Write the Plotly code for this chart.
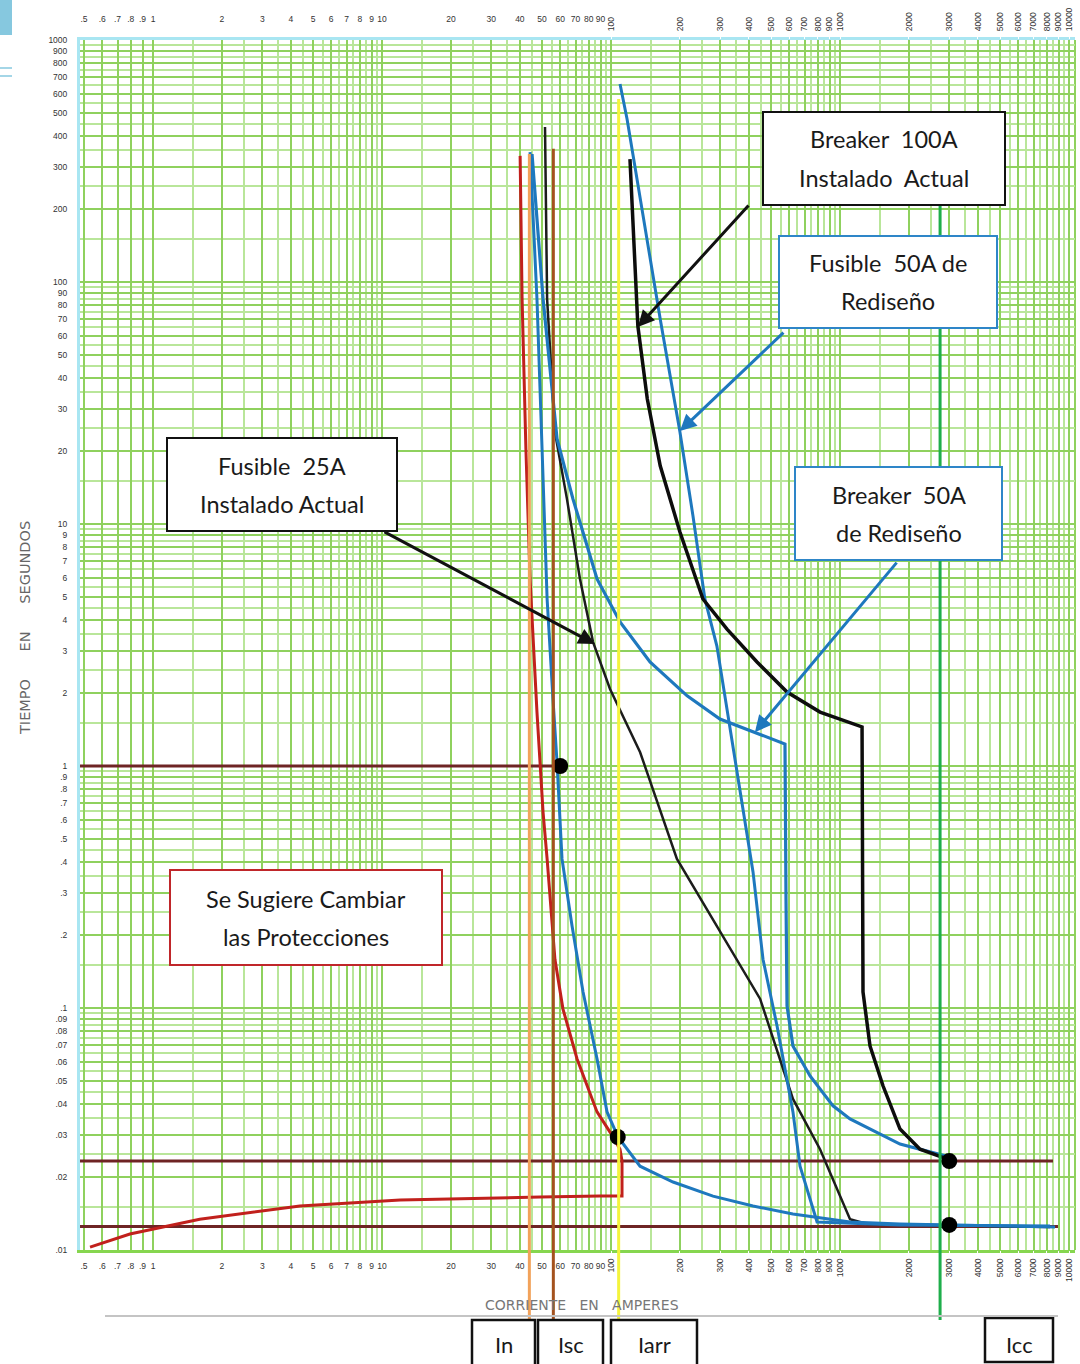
import math
import plotly.graph_objects as go

# ---------------- axis extents (amperes / seconds) ----------------
X_MIN, X_MAX = 0.48, 10620
Y_MIN, Y_MAX = 0.01, 1000

# ---------------- tick labels ----------------
x_ticks_small = [0.5, 0.6, 0.7, 0.8, 0.9, 1, 2, 3, 4, 5, 6, 7, 8, 9,
                 10, 20, 30, 40, 50, 60, 70, 80, 90]
x_ticks_big = [100, 200, 300, 400, 500, 600, 700, 800, 900,
               1000, 2000, 3000, 4000, 5000, 6000, 7000, 8000, 9000, 10000]
y_ticks = [0.01, 0.02, 0.03, 0.04, 0.05, 0.06, 0.07, 0.08, 0.09,
           0.1, 0.2, 0.3, 0.4, 0.5, 0.6, 0.7, 0.8, 0.9,
           1, 2, 3, 4, 5, 6, 7, 8, 9,
           10, 20, 30, 40, 50, 60, 70, 80, 90,
           100, 200, 300, 400, 500, 600, 700, 800, 900, 1000]
half_steps = [1.5, 2.5, 3.5, 4.5, 5.5, 6.5, 7.5, 8.5, 9.5]
decades_x = [0.1, 1, 10, 100, 1000]
decades_y = [0.01, 0.1, 1, 10, 100]

# ---------------- curves (current A, time s) ----------------
red_I = [40.1, 40.9, 42.5, 44.3, 47.5, 50.5, 52.6, 56.9, 61.7, 71.1, 86.9, 99.0,
         109.5, 111.7, 111.7, 89.5, 49.0, 12.0, 4.38, 1.60, 0.793, 0.531]
red_t = [332, 85.1, 20.4, 5.93, 1.67, 0.645, 0.413, 0.159, 0.099, 0.0616, 0.0372, 0.0307,
         0.0261, 0.0233, 0.0167, 0.0167, 0.01656, 0.0161, 0.0152, 0.0134, 0.01164, 0.01028]

fuse_blue_I = [44.3, 47.5, 50.0, 52.6, 55.8, 58.1, 61.1, 67.6, 75.5, 86.9, 96.1, 107.3,
               133.9, 186.6, 278.8, 417, 623, 1106, 1828, 5000, 8690]
fuse_blue_t = [344, 85.1, 20.4, 4.90, 1.89, 1.04, 0.413, 0.218, 0.1165, 0.0616, 0.0372, 0.0293,
               0.0222, 0.0191, 0.0167, 0.0152, 0.01409, 0.01305, 0.0128, 0.01256, 0.01245]

brk50_I = [45.2, 50.5, 58.1, 68.2, 86.9, 109.5, 148, 215, 299, 417, 575,
           581, 587, 623, 740, 932, 1106, 1828, 3020]
brk50_t = [338, 85.1, 22.5, 12.7, 5.93, 3.94, 2.69, 1.95, 1.564, 1.382, 1.233,
           0.282, 0.102, 0.0697, 0.0524, 0.0394, 0.0348, 0.0274, 0.0242]

fus50_I = [109.5, 117.5, 164, 200, 228, 257, 290, 331, 417, 461, 531, 623, 669, 794, 1828, 8260]
fus50_t = [658, 472, 70.3, 24.0, 10.8, 4.90, 3.13, 1.42, 0.365, 0.159, 0.0843, 0.0372,
           0.0222, 0.01305, 0.01268, 0.01256]

brk100_I = [121, 131, 144, 164, 200, 252, 321, 434, 587, 818, 1248,
            1260, 1352, 1542, 1828, 2235, 3115]
brk100_t = [322, 65.8, 32.9, 17.4, 9.27, 4.90, 3.68, 2.69, 2.02, 1.67, 1.45,
            0.1165, 0.0697, 0.0476, 0.0316, 0.0261, 0.0233]

fus25_I = [51.5, 52.6, 56.9, 64.2, 73.2, 83.5, 99.0, 134, 194, 290, 448, 623, 818, 1106, 1312, 8260]
fus25_t = [437, 85.1, 24.0, 12.7, 5.93, 3.25, 2.08, 1.14, 0.413, 0.218, 0.109, 0.0421,
           0.0261, 0.0134, 0.0128, 0.01245]

dots_I = [60, 107, 3000, 3000]
dots_t = [1.0, 0.0293, 0.0233, 0.0127]

# horizontal reference lines (maroon)
hline_t = [1.0, 0.0233, 0.0125]
hline_end_I = [60, 8510, 8950]

# vertical current markers
vline_names = ["In", "Isc", "Iarr", "Icc"]
vline_I = [44, 56, 108, 2735]
vline_top_t = [338, 355, 570, 210]
vline_colors = ["#f2a25a", "#a4521e", "#f4f43c", "#1fae4b"]

# arrows: head (A, s)
arrow_I = [131, 200, 85.1, 425]
arrow_t = [65.2, 24.2, 3.19, 1.38]
arrow_colors = ["#111111", "#1e78be", "#111111", "#1e78be"]

# ---------------- layout geometry ----------------
W, H = 1080, 1364
ML, MR, MT, MB = 80, 5, 40, 114
PW, PH = W - ML - MR, H - MT - MB


def px(x):
    return (x - ML) / PW


def py(y):
    return (H - MB - y) / PH


def fmt(v):
    if v < 1:
        return ("%g" % v)[1:]
    return "%d" % v


def t_to_paper(t):
    return (math.log10(t) - math.log10(Y_MIN)) / (math.log10(Y_MAX) - math.log10(Y_MIN))


NB = "\u00a0"
x_all = x_ticks_small + x_ticks_big
x_minor = [h * d for d in decades_x[1:] for h in half_steps]
y_minor = [h * d for d in decades_y for h in half_steps]

GRID_MAJOR = "#8fd15e"
GRID_MINOR = "#b9e69a"
TICKFONT = dict(family="Liberation Sans", size=8.5, color="#333333")
xr = [math.log10(X_MIN), math.log10(X_MAX)]
yr = [math.log10(Y_MIN), math.log10(Y_MAX)]

fig = go.Figure()

BLUE = "#1e78be"


def line(xs, ys, color, width):
    fig.add_trace(go.Scatter(x=xs, y=ys, mode="lines",
                             line=dict(color=color, width=width),
                             hoverinfo="skip", showlegend=False))


# horizontal maroon lines
for t, e in zip(hline_t, hline_end_I):
    line([X_MIN, e], [t, t], "#6e2424", 3)

line(fus25_I, fus25_t, "#1c1c1c", 2.5)
line(red_I, red_t, "#c1201c", 3)
line(fuse_blue_I, fuse_blue_t, BLUE, 3)
line(brk50_I, brk50_t, BLUE, 3.2)
line(fus50_I, fus50_t, BLUE, 3)
line(brk100_I, brk100_t, "#0d0d0d", 3.5)

fig.add_trace(go.Scatter(x=dots_I, y=dots_t, mode="markers",
                         marker=dict(color="#000000", size=16),
                         hoverinfo="skip", showlegend=False))

# dummy traces for overlay axes
for ax in ["x2", "x3", "x4"]:
    fig.add_trace(go.Scatter(x=[1], y=[1], xaxis=ax, yaxis="y", mode="markers",
                             marker=dict(opacity=0), hoverinfo="skip", showlegend=False))

shapes = []
annotations = []

# vertical current markers
for name, I, top, col in zip(vline_names, vline_I, vline_top_t, vline_colors):
    shapes.append(dict(type="line", xref="x", yref="paper", x0=I, x1=I,
                       y0=py(1320), y1=t_to_paper(top),
                       line=dict(color=col, width=3), layer="above"))

# boxes with text
boxes = [
    (763, 1005, 112, 205, "#111111", "Breaker  100A", "Instalado  Actual"),
    (779, 997, 236, 328, "#2e86c8", "Fusible  50A de", "Rediseño"),
    (167, 397, 438, 531, "#111111", "Fusible  25A", "Instalado Actual"),
    (795, 1002, 467, 560, "#2e86c8", "Breaker  50A", "de Rediseño"),
    (170, 442, 870, 965, "#c0262a", "Se Sugiere Cambiar", "las Protecciones"),
]
BOXFONT = dict(family="Lato", size=23.5, color="#1a1a1a")
for x0, x1, y0, y1, col, l1, l2 in boxes:
    shapes.append(dict(type="rect", xref="paper", yref="paper",
                       x0=px(x0), x1=px(x1), y0=py(y1), y1=py(y0),
                       line=dict(color=col, width=2), fillcolor="white", layer="above"))
    cx = px((x0 + x1) / 2)
    cy = (y0 + y1) / 2
    annotations.append(dict(xref="paper", yref="paper", x=cx, y=py(cy - 19), text=l1,
                            showarrow=False, font=BOXFONT, xanchor="center", yanchor="middle"))
    annotations.append(dict(xref="paper", yref="paper", x=cx, y=py(cy + 19), text=l2,
                            showarrow=False, font=BOXFONT, xanchor="center", yanchor="middle"))

# bottom label boxes
bottom_boxes = [(472, 535, 1320, 1368, "In"), (538, 603, 1320, 1368, "Isc"),
                (611, 697, 1320, 1368, "Iarr"), (985, 1053, 1318, 1362, "Icc")]
for x0, x1, y0, y1, txt in bottom_boxes:
    shapes.append(dict(type="rect", xref="paper", yref="paper",
                       x0=px(x0), x1=px(x1), y0=py(y1), y1=py(y0),
                       line=dict(color="#111111", width=2.5), fillcolor="rgba(0,0,0,0)",
                       layer="above"))
    annotations.append(dict(xref="paper", yref="paper", x=px((x0 + x1) / 2), y=py(1344),
                            text=txt, showarrow=False, font=dict(family="Lato", size=22, color="#1a1a1a"),
                            xanchor="center", yanchor="middle"))

# arrows
tails = [(750, 205), (785, 332), (383, 532), (898, 562)]
heads_px = [(638, 328), (680, 432), (595, 645), (755, 733)]
for I, t, col, (tx, ty), (hx, hy) in zip(arrow_I, arrow_t, arrow_colors, tails, heads_px):
    annotations.append(dict(xref="x", yref="y", x=math.log10(I), y=math.log10(t), text="",
                            showarrow=True, arrowhead=2, arrowsize=1.1, arrowwidth=3,
                            arrowcolor=col, ax=tx - hx, ay=ty - hy))

# axis titles
annotations.append(dict(xref="paper", yref="paper", x=px(25), y=py(628),
                        text="TIEMPO" + NB * 6 + "EN" + NB * 6 + "SEGUNDOS", textangle=-90,
                        showarrow=False,
                        font=dict(family="DejaVu Sans", size=14.5, color="#666666"),
                        xanchor="center", yanchor="middle"))
annotations.append(dict(xref="paper", yref="paper", x=px(582), y=py(1305),
                        text="CORRIENTE" + NB * 3 + "EN" + NB * 3 + "AMPERES", showarrow=False,
                        font=dict(family="DejaVu Sans", size=14, color="#777777"),
                        xanchor="center", yanchor="middle"))
shapes.append(dict(type="line", xref="paper", yref="paper", x0=px(105), x1=px(1058),
                   y0=py(1316), y1=py(1316), line=dict(color="#c4c4c4", width=2)))

# slide decorations top-left
shapes.append(dict(type="rect", xref="paper", yref="paper", x0=px(0), x1=px(12),
                   y0=py(35), y1=py(0), line=dict(width=0), fillcolor="#86c8df"))
for yy in (68, 76):
    shapes.append(dict(type="line", xref="paper", yref="paper", x0=px(0), x1=px(12),
                       y0=py(yy), y1=py(yy), line=dict(color="#86c8df", width=1.5)))

# right edge
shapes.append(dict(type="line", xref="paper", yref="paper", x0=1, x1=1, y0=0, y1=1,
                   line=dict(color=GRID_MAJOR, width=2), layer="below"))

common_x = dict(type="log", range=xr, automargin=False, fixedrange=True)

fig.update_layout(
    width=W, height=H,
    margin=dict(l=ML, r=MR, t=MT, b=MB),
    paper_bgcolor="white", plot_bgcolor="white",
    showlegend=False,
    xaxis=dict(**common_x, side="bottom", anchor="y",
               tickmode="array", tickvals=x_all,
               ticktext=[fmt(v) for v in x_ticks_small] + ["" for _ in x_ticks_big],
               tickangle=0, tickfont=TICKFONT, ticks="outside", ticklen=6, tickcolor="white",
               showgrid=True, gridcolor=GRID_MAJOR, gridwidth=2,
               minor=dict(tickmode="array", tickvals=x_minor, showgrid=True,
                          gridcolor=GRID_MINOR, gridwidth=1.5, ticks=""),
               showline=True, linecolor="#86d64f", linewidth=3, zeroline=False),
    xaxis2=dict(**common_x, side="top", overlaying="x", anchor="y",
                tickmode="array", tickvals=x_ticks_small,
                ticktext=[fmt(v) for v in x_ticks_small],
                tickangle=0, tickfont=TICKFONT, ticks="outside", ticklen=12, tickcolor="white",
                showgrid=False, showline=True, linecolor="#a9e6f2", linewidth=3),
    xaxis3=dict(**common_x, side="bottom", overlaying="x", anchor="y",
                tickmode="array", tickvals=x_ticks_big,
                ticktext=[fmt(v) for v in x_ticks_big],
                tickangle=-90, tickfont=TICKFONT, ticks="outside", ticklen=4, tickcolor="white",
                showgrid=False, showline=False),
    xaxis4=dict(**common_x, side="top", overlaying="x", anchor="y",
                tickmode="array", tickvals=x_ticks_big,
                ticktext=[fmt(v) for v in x_ticks_big],
                tickangle=-90, tickfont=TICKFONT, ticks="outside", ticklen=6, tickcolor="white",
                showgrid=False, showline=False),
    yaxis=dict(type="log", range=yr, automargin=False, fixedrange=True,
               tickmode="array", tickvals=y_ticks, ticktext=[fmt(v) for v in y_ticks],
               tickangle=0, tickfont=TICKFONT, ticks="outside", ticklen=8, tickcolor="white",
               showgrid=True, gridcolor=GRID_MAJOR, gridwidth=2,
               minor=dict(tickmode="array", tickvals=y_minor, showgrid=True,
                          gridcolor=GRID_MINOR, gridwidth=1.5, ticks=""),
               showline=True, linecolor="#a9e6f2", linewidth=3, zeroline=False),
    shapes=shapes,
    annotations=annotations,
)

fig.write_html("out.html", config={"displayModeBar": False},
               post_script="document.body.style.margin='0';document.body.style.overflow='hidden';")
